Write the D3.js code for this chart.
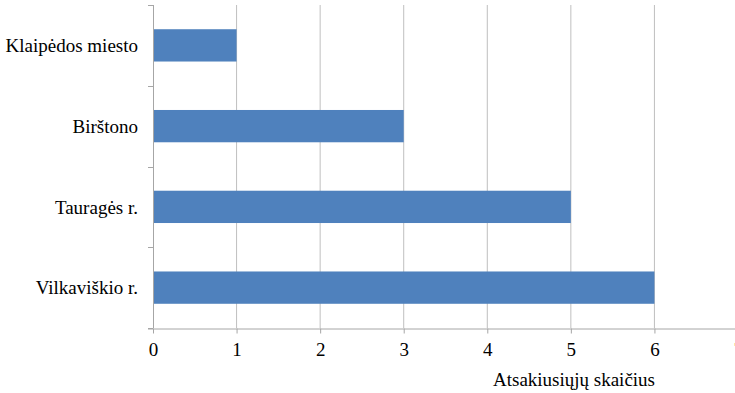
<!DOCTYPE html>
<html><head><meta charset="utf-8">
<script src="https://cdn.jsdelivr.net/npm/d3@7"></script>
<style>body{margin:0;background:#fff}svg{display:block}</style>
</head><body>
<script>
const categories = ["Klaipėdos miesto", "Birštono", "Tauragės r.", "Vilkaviškio r."];
const values = [1, 3, 5, 6];
const xTicks = [0, 1, 2, 3, 4, 5, 6, 7];
const xTitle = "Atsakiusiųjų skaičius";

const W = 735, H = 393;
const svg = d3.select("body").append("svg").attr("width", W).attr("height", H)
  .style("font-family", "Liberation Serif");

const x = d3.scaleLinear().domain([0, 7]).range([153, 738]);
const y = d3.scaleBand().domain(categories).range([5, 328]).paddingInner(0.6).paddingOuter(0.3);

// gridlines
svg.append("g").selectAll("line").data(xTicks.filter(d => d > 0)).join("line")
  .attr("x1", d => x(d)).attr("x2", d => x(d)).attr("y1", 5).attr("y2", 328)
  .attr("stroke", "#bfbfbf").attr("stroke-width", 1);

// bars
svg.append("g").selectAll("rect").data(values).join("rect")
  .attr("x", x(0)).attr("y", (d, i) => y(categories[i]))
  .attr("width", d => x(d) - x(0)).attr("height", y.bandwidth())
  .attr("fill", "#4f81bd");

// x axis
const xAxis = svg.append("g").attr("transform", "translate(0,328.5)")
  .call(d3.axisBottom(x).tickValues(xTicks).tickSize(5).tickPadding(9).tickFormat(d3.format("d")));
xAxis.attr("font-family", null).attr("font-size", null);
xAxis.select(".domain").attr("d", "M148,0.5H735").attr("stroke", "#a6a6a6");
xAxis.selectAll(".tick line").attr("stroke", "#a6a6a6");
xAxis.selectAll("text").style("font-size", "19px").attr("fill", "#000");

// y axis
const yEdges = [5, 85.75, 166.5, 247.25, 328];
svg.append("line").attr("x1", 153.5).attr("x2", 153.5).attr("y1", 5).attr("y2", 328)
  .attr("stroke", "#a6a6a6");
svg.append("g").selectAll("line").data(yEdges).join("line")
  .attr("x1", 148).attr("x2", 153).attr("y1", d => Math.round(d) + 0.5).attr("y2", d => Math.round(d) + 0.5)
  .attr("stroke", "#a6a6a6");
svg.append("g").selectAll("text").data(categories).join("text")
  .attr("x", 138).attr("y", d => y(d) + y.bandwidth() / 2)
  .attr("dy", "0.36em").attr("text-anchor", "end")
  .style("font-size", "19px").attr("fill", "#000")
  .text(d => d);

// title
svg.append("text").attr("x", 574).attr("y", 386).attr("text-anchor", "middle")
  .style("font-size", "19px").attr("fill", "#000").text(xTitle);
</script>
</body></html>
